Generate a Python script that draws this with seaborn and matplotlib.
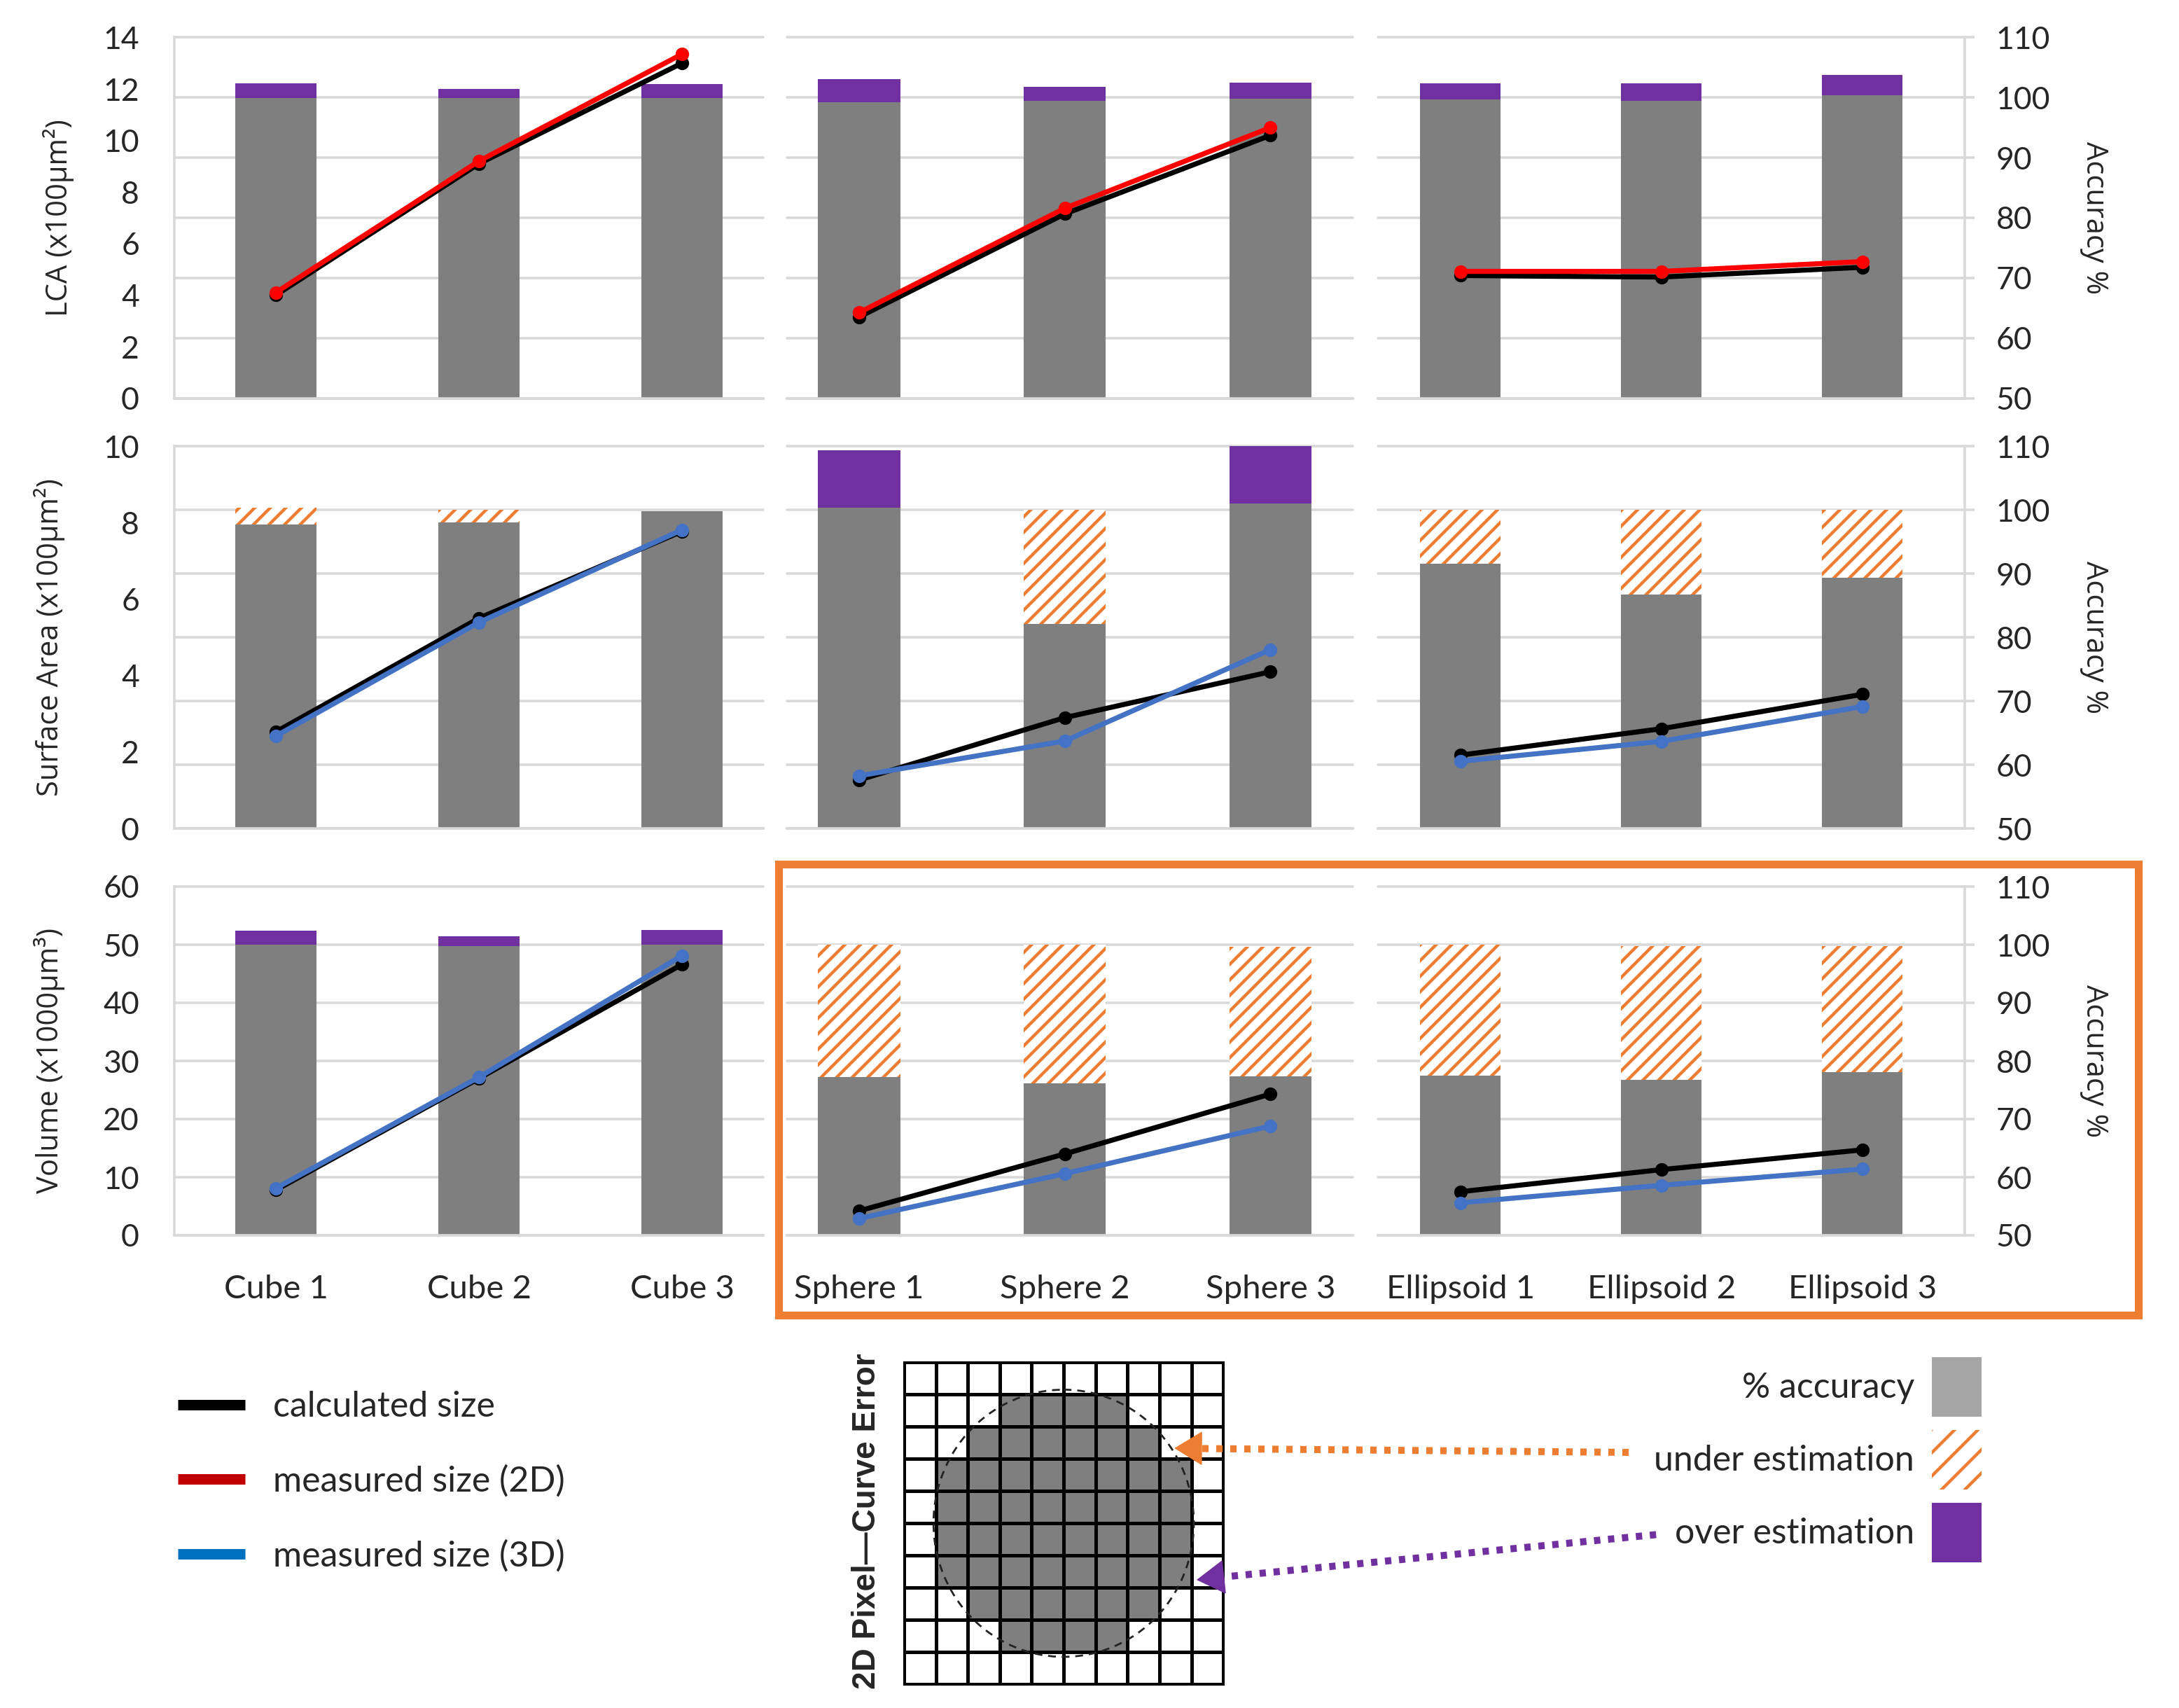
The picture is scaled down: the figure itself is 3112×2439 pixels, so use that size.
import numpy as np
import matplotlib
matplotlib.use("Agg")
import matplotlib.pyplot as plt
from matplotlib.patches import Patch, Ellipse, Rectangle
from matplotlib.lines import Line2D
from matplotlib.colors import ListedColormap
import seaborn as sns

# ---------------- data ----------------
cube_labels = ["Cube 1", "Cube 2", "Cube 3"]
sphere_labels = ["Sphere 1", "Sphere 2", "Sphere 3"]
ellipsoid_labels = ["Ellipsoid 1", "Ellipsoid 2", "Ellipsoid 3"]
group_labels = [cube_labels, sphere_labels, ellipsoid_labels]

row_titles = ["LCA (x100µm²)", "Surface Area (x100µm²)", "Volume (x1000µm³)"]
size_max = [14, 10, 60]
size_step = [2, 2, 10]
accuracy_ticks = [50, 60, 70, 80, 90, 100, 110]

# accuracy % (grey bar top) and error-segment top, per group (cube, sphere, ellipsoid)
lca_accuracy = [[99.9, 99.9, 99.9], [99.2, 99.4, 99.8], [99.7, 99.4, 100.4]]
lca_error_top = [[102.4, 101.4, 102.3], [103.1, 101.8, 102.5], [102.4, 102.4, 103.8]]
lca_error_kind = [["over", "over", "over"], ["over", "over", "over"], ["over", "over", "over"]]

sa_accuracy = [[97.7, 98.0, 99.8], [100.3, 82.1, 101.0], [91.6, 86.7, 89.3]]
sa_error_top = [[100.3, 100.0, 0.0], [109.3, 100.0, 110.0], [100.0, 100.0, 100.0]]
sa_error_kind = [["under", "under", "none"], ["over", "under", "over"], ["under", "under", "under"]]

vol_accuracy = [[100.0, 99.7, 100.0], [77.2, 76.2, 77.3], [77.5, 76.8, 78.1]]
vol_error_top = [[102.4, 101.4, 102.5], [100.0, 100.0, 99.6], [100.0, 99.8, 99.7]]
vol_error_kind = [["over", "over", "over"], ["under", "under", "under"], ["under", "under", "under"]]

# sizes (left axis)
lca_calculated = [[4.0, 9.1, 13.0], [3.15, 7.15, 10.2], [4.76, 4.7, 5.08]]
lca_measured_2d = [[4.1, 9.2, 13.35], [3.32, 7.37, 10.5], [4.92, 4.92, 5.3]]
sa_calculated = [[2.53, 5.5, 7.77], [1.27, 2.9, 4.1], [1.92, 2.61, 3.51]]
sa_measured_3d = [[2.42, 5.39, 7.81], [1.38, 2.29, 4.68], [1.76, 2.28, 3.19]]
vol_calculated = [[7.8, 27.0, 46.6], [4.2, 14.0, 24.3], [7.5, 11.3, 14.7]]
vol_measured_3d = [[8.1, 27.2, 48.1], [2.9, 10.6, 18.8], [5.6, 8.6, 11.4]]

legend_line_labels = ["calculated size", "measured size (2D)", "measured size (3D)"]
legend_bar_labels = ["% accuracy", "under estimation", "over estimation"]
diagram_title = "2D Pixel\u2014Curve Error"
# filled pixel columns [start, stop) for each of the 10 grid rows
pixel_filled_span = [(0, 0), (3, 7), (2, 8), (1, 9), (1, 9), (1, 9), (1, 9), (2, 8), (3, 7), (0, 0)]

# ---------------- style ----------------
GRAY = "#7F7F7F"
PURPLE = "#7030A0"
ORANGE = "#ED7D31"
GRID = "#D9D9D9"
RED = "#FF0000"
BLUE = "#4472C4"

sns.set_style("white")
plt.rcParams["font.family"] = ["Lato", "DejaVu Sans"]
plt.rcParams["hatch.linewidth"] = 1.6

W, H = 1556.0, 1219.5
fig = plt.figure(figsize=(15.56, 12.195), dpi=200)
fig.patch.set_facecolor("white")


def rect(x0, x1, y0, y1):
    return [x0 / W, 1 - y1 / H, (x1 - x0) / W, (y1 - y0) / H]


rows_y = [(26.7, 284.3), (318.5, 591.6), (633.0, 882.0)]
cols_x = [(124.5, 545.0), (562.0, 966.0), (984.0, 1403.0)]
xlims = [(-0.5, 2.4), (-0.35, 2.4), (-0.41, 2.51)]

acc_rows = [lca_accuracy, sa_accuracy, vol_accuracy]
err_rows = [lca_error_top, sa_error_top, vol_error_top]
kind_rows = [lca_error_kind, sa_error_kind, vol_error_kind]
calc_rows = [lca_calculated, sa_calculated, vol_calculated]
meas_rows = [lca_measured_2d, sa_measured_3d, vol_measured_3d]
meas_colors = [RED, BLUE, BLUE]

for r in range(3):
    for c in range(3):
        labels = group_labels[c]
        ax = fig.add_axes(rect(cols_x[c][0], cols_x[c][1], rows_y[r][0], rows_y[r][1]))
        acc = acc_rows[r][c]
        top = err_rows[r][c]
        kind = kind_rows[r][c]
        over = [t if k == "over" else 0 for t, k in zip(top, kind)]
        under = [t if k == "under" else 0 for t, k in zip(top, kind)]
        sns.barplot(x=labels, y=over, order=labels, ax=ax, color=PURPLE, saturation=1,
                    width=0.4, linewidth=0, errorbar=None)
        sns.barplot(x=labels, y=under, order=labels, ax=ax, color="white", saturation=1,
                    width=0.4, linewidth=0, edgecolor=ORANGE, hatch="///", errorbar=None)
        sns.barplot(x=labels, y=acc, order=labels, ax=ax, color=GRAY, saturation=1,
                    width=0.4, linewidth=0, errorbar=None)
        ax2 = ax.twinx()
        sns.pointplot(x=labels, y=calc_rows[r][c], order=labels, ax=ax2, color="black",
                      markers="o", linestyles="-", errorbar=None, linewidth=2.6, markersize=5)
        sns.pointplot(x=labels, y=meas_rows[r][c], order=labels, ax=ax2, color=meas_colors[r],
                      markers="o", linestyles="-", errorbar=None, linewidth=2.6, markersize=5)

        ax.set_ylim(50, 110)
        ax.set_yticks(accuracy_ticks)
        ax2.set_ylim(0, size_max[r])
        ax2.set_yticks(np.arange(0, size_max[r] + 0.01, size_step[r]))
        ax.set_xlim(*xlims[c])
        ax.set_xticks([0, 1, 2])
        ax.set_xticklabels(labels if r == 2 else [""] * 3)
        ax.tick_params(axis="x", length=0, pad=20, labelsize=17)
        ax.set_xlabel("")
        ax.set_ylabel("")
        ax2.set_xlabel("")
        ax2.set_ylabel("")
        ax.grid(axis="y", color=GRID, linewidth=1.3)
        ax.grid(axis="x", visible=False)
        ax.set_axisbelow(True)
        for gl in ax.yaxis.get_gridlines():
            gl.set_clip_on(False)
        for sp in ["top", "left", "right"]:
            ax.spines[sp].set_visible(False)
        ax.spines["bottom"].set_color(GRID)
        ax.spines["bottom"].set_linewidth(1.3)
        for sp in ax2.spines.values():
            sp.set_visible(False)

        ax.tick_params(axis="y", left=False, right=False, labelleft=False, labelright=False)
        ax2.tick_params(axis="y", left=False, right=False, labelleft=False, labelright=False)

        if c == 0:
            ax.spines["left"].set_visible(True)
            ax.spines["left"].set_color(GRID)
            ax.spines["left"].set_linewidth(1.3)
            ax2.yaxis.tick_left()
            ax2.yaxis.set_label_position("left")
            ax2.tick_params(axis="y", left=False, labelleft=True, length=0, pad=18, labelsize=16)
            ax2.set_ylabel(row_titles[r], fontsize=15, family=["Open Sans", "DejaVu Sans"])
            ax2.yaxis.set_label_coords(-0.17 if r == 0 else -0.185, 0.5)
        if c == 2:
            ax.spines["right"].set_visible(True)
            ax.spines["right"].set_color(GRID)
            ax.spines["right"].set_linewidth(1.3)
            ax.yaxis.tick_right()
            ax.tick_params(axis="y", right=True, labelright=True, length=5, width=1.3,
                           color=GRID, pad=11, labelsize=16)
            ax.yaxis.set_label_position("right")
            ax.set_ylabel("Accuracy %", rotation=270, va="bottom", fontsize=15,
                          family=["Open Sans", "DejaVu Sans"])
            ax.yaxis.set_label_coords(1.196, 0.5)

# ---------------- pixel diagram ----------------
pixel_matrix = np.zeros((10, 10))
for i, (a, b) in enumerate(pixel_filled_span):
    pixel_matrix[i, a:b] = 1
axd = fig.add_axes(rect(645.5, 873.6, 972.7, 1202.5))
sns.heatmap(pixel_matrix, ax=axd, cmap=ListedColormap(["white", GRAY]), vmin=0, vmax=1,
            cbar=False, linewidths=1.1, linecolor="black", xticklabels=False, yticklabels=False)
axd.add_patch(Ellipse((5, 5), 8.15, 8.3, fill=False, edgecolor="#222222", linestyle=(0, (4, 3)),
                      linewidth=1.0))
for sp in axd.spines.values():
    sp.set_visible(True)
    sp.set_color("black")
    sp.set_linewidth(1.1)

fig.text(619 / W, 1 - 1086 / H, diagram_title, rotation=90, ha="center", va="center",
         fontsize=16.5, fontweight="bold", family=["Liberation Sans", "DejaVu Sans"])

# ---------------- overlay: arrows and highlight box ----------------
ovl = fig.add_axes([0, 0, 1, 1], zorder=10)
ovl.set_xlim(0, W)
ovl.set_ylim(H, 0)
ovl.axis("off")
ovl.patch.set_visible(False)

ovl.plot([1163, 852], [1037, 1034.2], color=ORANGE, lw=3.6, linestyle=(0, (0.9, 1.1)),
         dash_capstyle="butt")
ovl.annotate("", xy=(838.6, 1034), xytext=(854, 1034.1),
             arrowprops=dict(arrowstyle="-|>,head_length=0.9,head_width=0.55", color=ORANGE,
                             lw=0.5, shrinkA=0, shrinkB=0, mutation_scale=15))
ovl.plot([1182.6, 869], [1095.7, 1126.4], color=PURPLE, lw=3.6, linestyle=(0, (0.9, 1.1)),
         dash_capstyle="butt")
ovl.annotate("", xy=(854.5, 1128), xytext=(870.5, 1126.3),
             arrowprops=dict(arrowstyle="-|>,head_length=0.9,head_width=0.55", color=PURPLE,
                             lw=0.5, shrinkA=0, shrinkB=0, mutation_scale=15))

ovl.add_patch(Rectangle((556, 617), 1527 - 556, 939 - 617, fill=False, edgecolor=ORANGE,
                        linewidth=4))

# ---------------- legends ----------------
line_handles = [Line2D([], [], color="black", lw=5.4, solid_capstyle="butt"),
                Line2D([], [], color="#C00000", lw=5.4, solid_capstyle="butt"),
                Line2D([], [], color="#0070C0", lw=5.4, solid_capstyle="butt")]
fig.legend(line_handles, legend_line_labels, loc="upper left",
           bbox_to_anchor=(127 / W, 1 - 993 / H), frameon=False, fontsize=18,
           handlelength=1.92, handletextpad=0.8, labelspacing=1.2, borderpad=0,
           borderaxespad=0)

bar_handles = [Patch(facecolor="#A6A6A6", edgecolor="none"),
               Patch(facecolor="white", edgecolor=ORANGE, hatch="//", linewidth=0),
               Patch(facecolor=PURPLE, edgecolor="none")]
fig.legend(bar_handles, legend_bar_labels, loc="upper right",
           bbox_to_anchor=(1415 / W, 1 - 969 / H), frameon=False, fontsize=18,
           markerfirst=False, handlelength=1.42, handleheight=2.24, handletextpad=0.5,
           labelspacing=0.38, borderpad=0, borderaxespad=0)

fig.savefig("out.png", dpi=200, facecolor="white")
